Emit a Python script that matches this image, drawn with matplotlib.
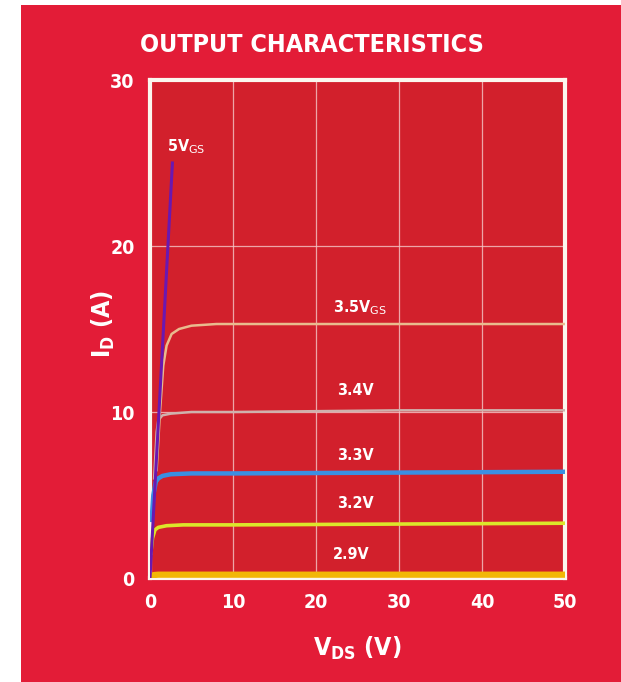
import matplotlib
matplotlib.use("Agg")
import matplotlib.pyplot as plt
from matplotlib.patches import Rectangle

# curves: drain voltage (V) vs drain current (A)
vds_5v = [0.0, 2.7]
id_5v = [0.0, 25.0]

vds_35 = [0.8, 1.2, 1.6, 2.0, 2.6, 3.5, 5.0, 8.0, 15.0, 30.0, 50.0]
id_35 = [6.5, 10.0, 12.8, 14.0, 14.7, 15.0, 15.2, 15.3, 15.3, 15.3, 15.3]

vds_34 = [0.5, 0.8, 1.0, 1.5, 2.5, 5.0, 10.0, 30.0, 50.0]
id_34 = [6.0, 8.8, 9.5, 9.8, 9.9, 10.0, 10.0, 10.1, 10.1]

vds_33 = [0.2, 0.4, 0.7, 1.0, 1.5, 2.5, 5.0, 10.0, 30.0, 50.0]
id_33 = [3.5, 5.0, 5.8, 6.0, 6.15, 6.25, 6.3, 6.3, 6.35, 6.4]

vds_32 = [0.1, 0.3, 0.6, 1.0, 2.0, 4.0, 10.0, 30.0, 50.0]
id_32 = [1.5, 2.4, 2.9, 3.05, 3.15, 3.2, 3.2, 3.25, 3.3]

vds_29 = [0.0, 0.5, 1.0, 10.0, 30.0, 50.0]
id_29 = [0.1, 0.18, 0.2, 0.2, 0.2, 0.2]

curve_labels = ["5V$_{\\rm GS}$", "3.5V$_{\\rm GS}$", "3.4V", "3.3V", "3.2V", "2.9V"]
label_x = [4.4, 25.3, 24.8, 24.8, 24.8, 24.2]
label_y = [26.0, 16.3, 11.3, 7.4, 4.5, 1.4]

outer_red = "#e31c37"
inner_red = "#d2202c"

plt.rcParams["mathtext.default"] = "regular"
fp = dict(family="DejaVu Sans", fontstretch="condensed", fontweight="bold")

fig = plt.figure(figsize=(6.21, 6.82), dpi=100, facecolor="white")
fig.patches.append(Rectangle((21 / 621, 0), 1, 677 / 682, transform=fig.transFigure,
                             facecolor=outer_red, edgecolor="none", zorder=-10))

ax = fig.add_axes([150 / 621, 1 - 578 / 682, 415 / 621, 498 / 682])
ax.set_facecolor(inner_red)

ax.plot(vds_29, id_29, color="#f2b705", lw=4.5, solid_capstyle="butt", zorder=3)
ax.plot(vds_32, id_32, color="#dce62a", lw=2.6, zorder=3)
ax.plot(vds_33, id_33, color="#3b8fe2", lw=3.2, zorder=4)
ax.plot(vds_34, id_34, color="#cfb2ad", lw=1.8, zorder=3)
ax.plot(vds_35, id_35, color="#e9bb8e", lw=1.8, zorder=3)
ax.plot(vds_5v, id_5v, color="#6a18b0", lw=2.2, zorder=5)

for txt, x, y in zip(curve_labels, label_x, label_y):
    ax.text(x, y, txt, color="white", fontsize=11.5, ha="center", va="center",
            zorder=6, **fp)

ax.set_xlim(0, 50)
ax.set_ylim(0, 30)
ax.set_xticks([0, 10, 20, 30, 40, 50])
ax.set_yticks([0, 10, 20, 30])
ax.grid(True, color="#f4c8c8", lw=0.9, alpha=0.8, zorder=1)
ax.set_axisbelow(True)
ax.tick_params(length=0, colors="white", labelsize=14, pad=11)
for lab in ax.get_xticklabels() + ax.get_yticklabels():
    lab.set_family("DejaVu Sans")
    lab.set_fontstretch("condensed")
    lab.set_fontweight("bold")
for sp in ax.spines.values():
    sp.set_color("#fbf7ee")
    sp.set_linewidth(3)

ax.set_xlabel("V$_{DS}$ (V)", color="white", fontsize=18, labelpad=16, **fp)
ax.set_ylabel("I$_D$ (A)", color="white", fontsize=18, **fp)
ax.yaxis.set_label_coords(-0.08, 0.51)

fig.text(312 / 621, 1 - 45 / 682, "OUTPUT CHARACTERISTICS", color="white",
         fontsize=18, ha="center", va="center", **fp)

plt.savefig("out.png", dpi=100, facecolor=fig.get_facecolor())
